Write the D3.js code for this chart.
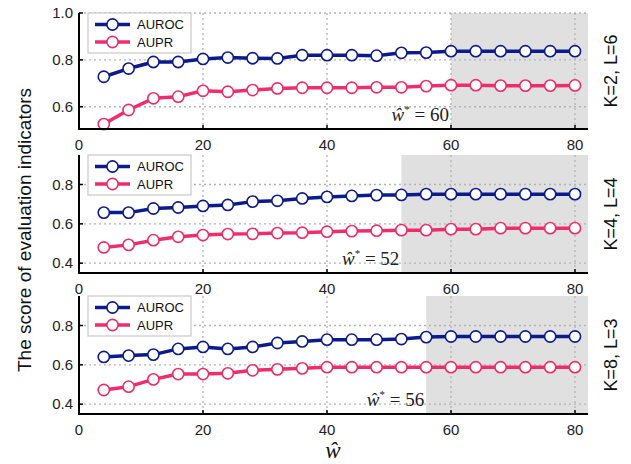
<!DOCTYPE html>
<html>
<head>
<meta charset="utf-8">
<script src="https://cdn.jsdelivr.net/npm/d3@7"></script>
<style>
  body { margin: 0; background: #fff; }
  text { font-family: "Liberation Sans", Arial, sans-serif; }
</style>
</head>
<body>
<div id="chart"></div>
<script>
  // window sizes
  var wValues = [4, 8, 12, 16, 20, 24, 28, 32, 36, 40, 44, 48, 52, 56, 60, 64, 68, 72, 76, 80];

  var auroc1 = [0.728, 0.763, 0.791, 0.791, 0.804, 0.810, 0.807, 0.806, 0.820, 0.820, 0.820, 0.818, 0.830, 0.831, 0.837, 0.837, 0.837, 0.837, 0.837, 0.837];
  var aupr1  = [0.526, 0.586, 0.636, 0.643, 0.668, 0.664, 0.671, 0.678, 0.681, 0.681, 0.681, 0.683, 0.683, 0.688, 0.692, 0.692, 0.690, 0.690, 0.690, 0.691];

  var auroc2 = [0.657, 0.657, 0.678, 0.683, 0.691, 0.696, 0.713, 0.717, 0.729, 0.737, 0.742, 0.746, 0.747, 0.751, 0.751, 0.751, 0.751, 0.751, 0.751, 0.751];
  var aupr2  = [0.480, 0.493, 0.517, 0.534, 0.543, 0.548, 0.549, 0.553, 0.555, 0.560, 0.563, 0.565, 0.568, 0.568, 0.573, 0.573, 0.578, 0.578, 0.578, 0.578];

  var auroc3 = [0.640, 0.647, 0.652, 0.681, 0.691, 0.681, 0.691, 0.711, 0.719, 0.728, 0.728, 0.728, 0.731, 0.741, 0.744, 0.744, 0.744, 0.744, 0.744, 0.744];
  var aupr3  = [0.472, 0.489, 0.526, 0.553, 0.553, 0.557, 0.572, 0.577, 0.582, 0.588, 0.588, 0.588, 0.588, 0.588, 0.588, 0.588, 0.588, 0.588, 0.588, 0.588];

  var panelLabels = ["K=2, L=6", "K=4, L=4", "K=8, L=3"];
  var wStar = [60, 52, 56];
  var seriesNames = ["AUROC", "AUPR"];
  var xTicks = [0, 20, 40, 60, 80];
  var yTicks = [[0.6, 0.8, 1.0], [0.4, 0.6, 0.8], [0.4, 0.6, 0.8]];
  var yDomains = [[0.505, 1.0], [0.35, 0.95], [0.35, 0.95]];

  var colors = ["#0c1b8c", "#ee2d6b"];

  var outerWidth = 631, outerHeight = 464;

  var panels = [
    { top: 13, bottom: 129, series: [auroc1, aupr1] },
    { top: 155, bottom: 273, series: [auroc2, aupr2] },
    { top: 296, bottom: 414, series: [auroc3, aupr3] }
  ];

  var svg = d3.select("#chart").append("svg")
      .attr("width", outerWidth)
      .attr("height", outerHeight);

  var x = d3.scaleLinear()
      .domain([0, 82.1])
      .range([79, 588]);

  panels.forEach(function(p, i) {
    var y = d3.scaleLinear()
        .domain(yDomains[i])
        .range([p.bottom, p.top]);

    var g = svg.append("g").attr("class", "panel");

    // shaded region beyond the chosen window
    g.append("rect")
        .attr("x", x(wStar[i]))
        .attr("y", p.top)
        .attr("width", x.range()[1] - x(wStar[i]))
        .attr("height", p.bottom - p.top)
        .attr("fill", "#e0e0e0");

    // dotted grid
    g.append("g").selectAll("line")
        .data(xTicks.filter(d => d > 0))
      .enter().append("line")
        .attr("x1", d => x(d))
        .attr("x2", d => x(d))
        .attr("y1", p.top)
        .attr("y2", p.bottom)
        .attr("stroke", "#b4b4b4")
        .attr("stroke-width", 1.3)
        .attr("stroke-dasharray", "2,3");

    g.append("g").selectAll("line")
        .data(yTicks[i])
      .enter().append("line")
        .attr("x1", x.range()[0])
        .attr("x2", x.range()[1])
        .attr("y1", d => y(d))
        .attr("y2", d => y(d))
        .attr("stroke", "#b4b4b4")
        .attr("stroke-width", 1.3)
        .attr("stroke-dasharray", "2,3");

    // annotation w* = ..
    var ann = g.append("text")
        .attr("x", x(wStar[i]) - 2)
        .attr("y", p.bottom - 8.5)
        .attr("text-anchor", "end")
        .style("font-family", "Liberation Serif, Times New Roman, serif")
        .attr("font-size", "19px")
        .attr("fill", "#222");
    ann.append("tspan").attr("font-style", "italic").text("\u0175");
    ann.append("tspan").attr("dy", -8).attr("font-size", "11px").text("*");
    ann.append("tspan").attr("dy", 8).text(" = " + wStar[i]);

    // series
    var line = d3.line()
        .x((d, j) => x(wValues[j]))
        .y(d => y(d));

    p.series.forEach(function(vals, k) {
      g.append("path")
          .datum(vals)
          .attr("d", line)
          .attr("fill", "none")
          .attr("stroke", colors[k])
          .attr("stroke-width", 3.5)
          .attr("stroke-linejoin", "round");

      g.append("g").selectAll("circle")
          .data(vals)
        .enter().append("circle")
          .attr("cx", (d, j) => x(wValues[j]))
          .attr("cy", d => y(d))
          .attr("r", 5.6)
          .attr("fill", "white")
          .attr("stroke", colors[k])
          .attr("stroke-width", 1.6);
    });

    // spines
    g.append("line")
        .attr("x1", x.range()[0]).attr("x2", x.range()[0])
        .attr("y1", p.top).attr("y2", p.bottom + 1)
        .attr("stroke", "black").attr("stroke-width", 2);
    g.append("line")
        .attr("x1", x.range()[0] - 1).attr("x2", x.range()[1])
        .attr("y1", p.bottom).attr("y2", p.bottom)
        .attr("stroke", "black").attr("stroke-width", 2);

    // inward ticks + labels
    g.append("g").selectAll("line")
        .data(yTicks[i])
      .enter().append("line")
        .attr("x1", x.range()[0]).attr("x2", x.range()[0] + 4)
        .attr("y1", d => y(d)).attr("y2", d => y(d))
        .attr("stroke", "black").attr("stroke-width", 1.5);

    g.append("g").selectAll("text")
        .data(yTicks[i])
      .enter().append("text")
        .attr("x", x.range()[0] - 6)
        .attr("y", d => y(d) + 5)
        .attr("text-anchor", "end")
        .attr("font-size", "15px")
        .attr("fill", "#222")
        .text(d => d3.format(".1f")(d));

    g.append("g").selectAll("line")
        .data(xTicks)
      .enter().append("line")
        .attr("x1", d => x(d)).attr("x2", d => x(d))
        .attr("y1", p.bottom).attr("y2", p.bottom - 4)
        .attr("stroke", "black").attr("stroke-width", 1.5);

    g.append("g").selectAll("text")
        .data(xTicks)
      .enter().append("text")
        .attr("x", d => x(d))
        .attr("y", p.bottom + 21)
        .attr("text-anchor", "middle")
        .attr("font-size", "15px")
        .attr("fill", "#222")
        .text(d => d);

    // legend
    var lx = 88, ly = p.top;
    var legend = g.append("g");
    legend.append("rect")
        .attr("x", lx).attr("y", ly)
        .attr("width", 103).attr("height", 40)
        .attr("fill", "white")
        .attr("stroke", "#c8c8c8")
        .attr("stroke-width", 1.2);

    seriesNames.forEach(function(name, k) {
      var cy = ly + 11.5 + k * 17.5;
      legend.append("line")
          .attr("x1", lx + 7).attr("x2", lx + 42)
          .attr("y1", cy).attr("y2", cy)
          .attr("stroke", colors[k]).attr("stroke-width", 3.5);
      legend.append("circle")
          .attr("cx", lx + 24.5).attr("cy", cy).attr("r", 5.6)
          .attr("fill", "white").attr("stroke", colors[k]).attr("stroke-width", 1.6);
      legend.append("text")
          .attr("x", lx + 49).attr("y", cy + 4.7)
          .attr("font-size", "13px")
          .attr("fill", "#111")
          .text(name);
    });

    // right label
    var cyMid = (p.top + p.bottom) / 2;
    g.append("text")
        .attr("transform", "translate(617," + cyMid + ") rotate(-90)")
        .attr("text-anchor", "middle")
        .attr("font-size", "18px")
        .attr("fill", "#111")
        .text(panelLabels[i]);
  });

  // axis titles
  svg.append("text")
      .attr("transform", "translate(31,230) rotate(-90)")
      .attr("text-anchor", "middle")
      .attr("font-size", "19px")
      .attr("fill", "#111")
      .text("The score of evaluation indicators");

  svg.append("text")
      .attr("x", x(40) + 6)
      .attr("y", 458)
      .attr("text-anchor", "middle")
      .style("font-family", "Liberation Serif, serif")
      .attr("font-style", "italic")
      .attr("font-size", "23px")
      .attr("fill", "#111")
      .text("\u0175");
</script>
</body>
</html>
